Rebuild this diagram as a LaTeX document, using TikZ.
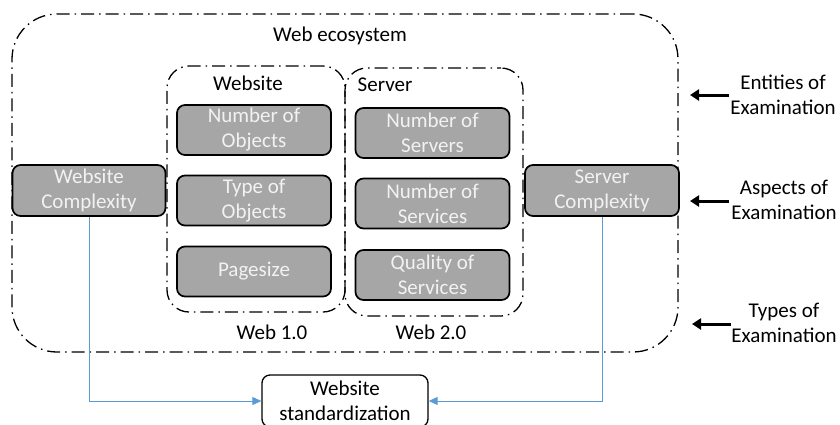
\documentclass[tikz,border=0pt]{standalone}
\usepackage{fontspec}
\setmainfont{Carlito}
\usetikzlibrary{arrows.meta}
\definecolor{boxgray}{HTML}{A6A6A6}
\definecolor{txtwhite}{HTML}{F2F2F2}
\definecolor{linkblue}{HTML}{5B9BD5}
\begin{document}
\begin{tikzpicture}[x=1pt,y=-1pt,
  every node/.style={font=\fontsize{21}{25}\selectfont, inner sep=0pt},
  dashdot/.style={draw, line width=1.3pt, dash pattern=on 13pt off 5pt on 1.5pt off 5pt},
  container/.style={dashdot, rectangle, rounded corners=22pt},
  item/.style={draw, line width=1.7pt, fill=boxgray, text=txtwhite, rounded corners=8pt, minimum width=154pt, minimum height=50pt, align=center},
  plain/.style={align=center},
  link/.style={draw=linkblue, line width=0.9pt, -{Triangle[length=9pt,width=8pt]}},
  pointer/.style={line width=3pt, -{Triangle[length=9pt,width=11pt]}}
]
\useasboundingbox (0,0) rectangle (840,424);
% containers
\node[container, rounded corners=45pt, minimum width=666pt, minimum height=338pt] (eco) at (345,183) {};
\node[container, minimum width=178pt, minimum height=246pt] (site) at (256,189) {};
\node[container, dash phase=9pt, minimum width=178pt, minimum height=248pt] (srv) at (434,192) {};
% titles
\node (ecolabel) at (340,36) {Web ecosystem};
\node (sitelabel) at (248,83) {Website};
\node (srvlabel) at (385,85) {Server};
\node (web1) at (272,332) {Web 1.0};
\node (web2) at (431,332) {Web 2.0};
% items
\node[item] (nobj) at (254,130) {Number of\\Objects};
\node[item] (tobj) at (254,200.5) {Type of\\Objects};
\node[item] (psize) at (254,271.5) {Pagesize};
\node[item] (nsrv) at (432.5,133) {Number of\\Servers};
\node[item] (nsvc) at (432.5,203.5) {Number of\\Services};
\node[item] (qsvc) at (432.5,275) {Quality of\\Services};
\node[item, minimum width=153pt, minimum height=51pt] (wc) at (89,190.5) {Website\\Complexity};
\node[item, minimum width=154pt, minimum height=51pt] (sc) at (602,190.5) {Server\\Complexity};
% standardization
\node[draw, line width=1.3pt, rounded corners=8pt, fill=white, minimum width=166pt, minimum height=52pt, align=center] (std) at (345,401) {Website\\standardization};
\draw[link] (wc.south) |- (std.west);
\draw[link] (sc.south) |- (std.east);
% right labels
\node[plain] (ent) at (783,95) {Entities of\\Examination};
\node[plain] (asp) at (784,200) {Aspects of\\Examination};
\node[plain] (typ) at (784,323) {Types of\\Examination};
\coordinate (entt) at (729,95);
\coordinate (enth) at (690,95);
\coordinate (aspt) at (729,201);
\coordinate (asph) at (690,201);
\coordinate (typt) at (731,324);
\coordinate (typh) at (692,324);
\draw[pointer] (entt) -- (enth);
\draw[pointer] (aspt) -- (asph);
\draw[pointer] (typt) -- (typh);
\end{tikzpicture}
\end{document}
